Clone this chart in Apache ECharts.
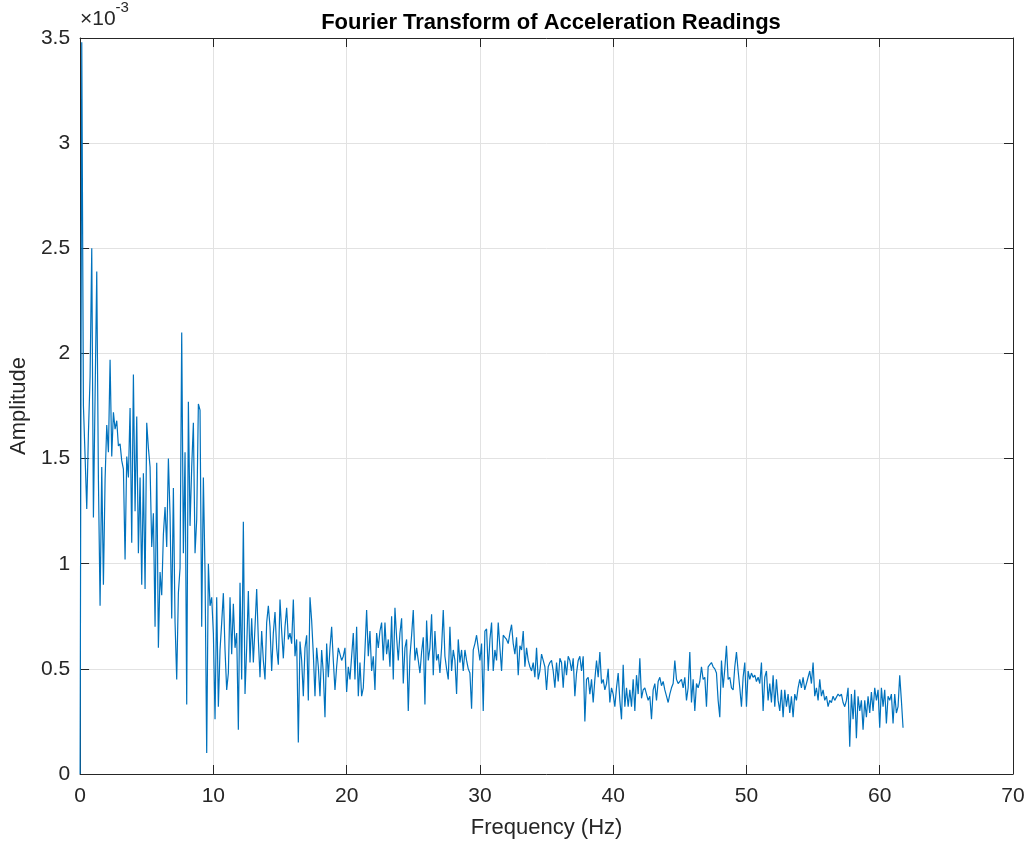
<!DOCTYPE html>
<html>
<head>
<meta charset="utf-8">
<title>Fourier Transform of Acceleration Readings</title>
<script src="https://cdn.jsdelivr.net/npm/echarts@6/dist/echarts.min.js"></script>
<style>
  html, body { margin: 0; padding: 0; background: #fff; }
  #chart { width: 1029px; height: 845px; }
</style>
</head>
<body>
<div id="chart"></div>
<script>
// frequency resolution of the spectrum (Hz per bin)
const df = 0.125;

// amplitude per bin, in units of 1e-3
const amp0to10 = [
  0, 3.48, 1.75, 1.51, 1.26, 1.62, 1.89, 2.50, 1.22, 1.80,
  2.39, 1.40, 0.80, 1.46, 0.90, 1.40, 1.66, 1.53, 1.97, 1.51,
  1.72, 1.64, 1.68, 1.56, 1.57, 1.49, 1.45, 1.02, 1.51, 1.41,
  1.74, 1.10, 1.90, 1.25, 1.70, 1.05, 1.41, 0.90, 1.43, 0.88,
  1.67, 1.55, 1.46, 1.08, 1.24, 0.70, 1.48, 0.60, 0.96, 0.85,
  1.14, 1.27, 1.08, 1.50, 1.23, 0.74, 1.36, 0.72, 0.45, 0.86,
  0.98, 2.10, 1.05, 1.53, 0.33, 1.77, 1.18, 1.46, 1.67, 1.05,
  1.21, 1.76, 1.73, 0.70, 1.41, 0.96, 0.10, 1.00, 0.80, 0.84
];
const amp10to20 = [
  0.67, 0.26, 0.84, 0.32, 0.59, 0.72, 0.86, 0.59, 0.40, 0.48,
  0.84, 0.57, 0.81, 0.60, 0.67, 0.21, 0.91, 0.45, 1.20, 0.38,
  0.60, 0.87, 0.53, 0.74, 0.53, 0.70, 0.88, 0.64, 0.46, 0.68,
  0.54, 0.45, 0.72, 0.80, 0.70, 0.49, 0.67, 0.77, 0.60, 0.52,
  0.83, 0.68, 0.55, 0.70, 0.79, 0.64, 0.67, 0.62, 0.83, 0.56,
  0.64, 0.15, 0.63, 0.54, 0.37, 0.60, 0.66, 0.35, 0.84, 0.73,
  0.57, 0.37, 0.60, 0.51, 0.37, 0.59, 0.48, 0.27, 0.62, 0.46,
  0.60, 0.70, 0.54, 0.40, 0.51, 0.60, 0.57, 0.54, 0.56, 0.60
];
const amp20to30 = [
  0.39, 0.51, 0.45, 0.56, 0.67, 0.45, 0.70, 0.37, 0.53, 0.37,
  0.41, 0.59, 0.78, 0.56, 0.68, 0.49, 0.56, 0.40, 0.67, 0.60,
  0.68, 0.72, 0.54, 0.72, 0.57, 0.64, 0.51, 0.75, 0.45, 0.79,
  0.65, 0.54, 0.67, 0.74, 0.43, 0.60, 0.64, 0.30, 0.56, 0.66,
  0.78, 0.54, 0.60, 0.54, 0.48, 0.58, 0.65, 0.33, 0.73, 0.54,
  0.60, 0.76, 0.47, 0.68, 0.54, 0.57, 0.48, 0.60, 0.78, 0.56,
  0.50, 0.45, 0.70, 0.49, 0.59, 0.54, 0.38, 0.64, 0.53, 0.59,
  0.49, 0.59, 0.54, 0.50, 0.48, 0.31, 0.59, 0.62, 0.66, 0.60
];
const amp30to40 = [
  0.54, 0.62, 0.30, 0.68, 0.69, 0.49, 0.64, 0.72, 0.49, 0.59,
  0.54, 0.72, 0.60, 0.49, 0.66, 0.65, 0.64, 0.62, 0.67, 0.71,
  0.62, 0.57, 0.65, 0.47, 0.61, 0.59, 0.68, 0.51, 0.60, 0.54,
  0.51, 0.49, 0.53, 0.46, 0.60, 0.45, 0.49, 0.57, 0.54, 0.51,
  0.40, 0.51, 0.53, 0.54, 0.49, 0.41, 0.53, 0.44, 0.55, 0.53,
  0.41, 0.54, 0.47, 0.56, 0.54, 0.49, 0.55, 0.37, 0.48, 0.54,
  0.56, 0.49, 0.56, 0.25, 0.45, 0.46, 0.38, 0.45, 0.34, 0.45,
  0.54, 0.46, 0.58, 0.43, 0.45, 0.40, 0.43, 0.50, 0.34, 0.41
];
const amp40to50 = [
  0.38, 0.32, 0.41, 0.48, 0.35, 0.26, 0.52, 0.32, 0.41, 0.32,
  0.40, 0.32, 0.45, 0.30, 0.47, 0.38, 0.55, 0.36, 0.40, 0.41,
  0.38, 0.35, 0.37, 0.26, 0.40, 0.43, 0.35, 0.44, 0.46, 0.42,
  0.44, 0.40, 0.37, 0.34, 0.38, 0.41, 0.43, 0.54, 0.45, 0.43,
  0.44, 0.45, 0.41, 0.46, 0.35, 0.41, 0.58, 0.34, 0.45, 0.30,
  0.43, 0.41, 0.44, 0.51, 0.45, 0.46, 0.32, 0.51, 0.52, 0.53,
  0.51, 0.50, 0.48, 0.35, 0.27, 0.54, 0.41, 0.50, 0.61, 0.45,
  0.46, 0.41, 0.40, 0.51, 0.58, 0.49, 0.41, 0.32, 0.46, 0.53
];
const amp50to60 = [
  0.32, 0.49, 0.45, 0.48, 0.46, 0.47, 0.44, 0.46, 0.43, 0.53,
  0.30, 0.46, 0.49, 0.35, 0.43, 0.34, 0.47, 0.32, 0.45, 0.35,
  0.30, 0.40, 0.27, 0.40, 0.32, 0.38, 0.29, 0.37, 0.27, 0.38,
  0.35, 0.41, 0.45, 0.41, 0.46, 0.40, 0.43, 0.46, 0.49, 0.43,
  0.53, 0.37, 0.41, 0.35, 0.45, 0.37, 0.40, 0.35, 0.37, 0.32,
  0.35, 0.34, 0.37, 0.35, 0.35, 0.38, 0.37, 0.38, 0.34, 0.32,
  0.35, 0.41, 0.13, 0.38, 0.26, 0.40, 0.17, 0.37, 0.30, 0.35,
  0.21, 0.35, 0.27, 0.37, 0.29, 0.39, 0.30, 0.41, 0.35, 0.40
];
const amp60to62 = [
  0.22, 0.41, 0.32, 0.40, 0.24, 0.37, 0.35, 0.38, 0.24, 0.38,
  0.29, 0.32, 0.47, 0.35, 0.22
];

const amplitude = [].concat(amp0to10, amp10to20, amp20to30, amp30to40,
                            amp40to50, amp50to60, amp60to62);
const freqTicks = [0, 10, 20, 30, 40, 50, 60, 70];
const ampTicks = [0, 0.5, 1, 1.5, 2, 2.5, 3, 3.5];

const spectrum = amplitude.map((a, i) => [i * df, a]);

const font = '"Liberation Sans", Arial, Helvetica, sans-serif';
const ink = '#262626';

let chart = echarts.init(document.getElementById('chart'), null, { renderer: 'canvas' });

const tickStyle = { show: true, inside: true, length: 9, lineStyle: { color: ink, width: 1 } };

chart.setOption({
  animation: false,
  backgroundColor: '#fff',
  title: {
    text: 'Fourier Transform of Acceleration Readings',
    left: 546, top: 7, textAlign: 'center',
    textStyle: { fontFamily: font, fontSize: 22, fontWeight: 'bold', color: '#000' }
  },
  grid: { left: 80, right: 16, top: 38, bottom: 71, containLabel: false },
  graphic: [{
    type: 'text', left: 80, top: 0,
    style: {
      text: '{a|×10}{b|-3}',
      rich: {
        a: { fontFamily: font, fontSize: 21, fill: ink, padding: [9, 0, 0, 0] },
        b: { fontFamily: font, fontSize: 15, fill: ink, verticalAlign: 'top' }
      }
    }
  }],
  xAxis: [{
    type: 'value', min: freqTicks[0], max: freqTicks[freqTicks.length - 1], interval: 10,
    name: 'Frequency (Hz)', nameLocation: 'middle', nameGap: 43,
    nameTextStyle: { fontFamily: font, fontSize: 22, color: ink },
    axisLine: { show: true, onZero: false, lineStyle: { color: ink, width: 1 } },
    axisTick: tickStyle,
    axisLabel: { fontFamily: font, fontSize: 21, color: ink, margin: 12 },
    splitLine: { show: true, lineStyle: { color: '#e2e2e2', width: 1 } }
  }, {
    type: 'value', position: 'top', min: 0, max: 70, interval: 10,
    axisLine: { show: true, onZero: false, lineStyle: { color: ink, width: 1 } },
    axisTick: tickStyle, axisLabel: { show: false }, splitLine: { show: false }
  }],
  yAxis: [{
    type: 'value', min: ampTicks[0], max: ampTicks[ampTicks.length - 1], interval: 0.5,
    name: 'Amplitude', nameLocation: 'middle', nameGap: 47,
    nameTextStyle: { fontFamily: font, fontSize: 22, color: ink },
    axisLine: { show: true, onZero: false, lineStyle: { color: ink, width: 1 } },
    axisTick: tickStyle,
    axisLabel: { fontFamily: font, fontSize: 21, color: ink, margin: 10 },
    splitLine: { show: true, lineStyle: { color: '#e2e2e2', width: 1 } }
  }, {
    type: 'value', position: 'right', min: 0, max: 3.5, interval: 0.5,
    axisLine: { show: true, onZero: false, lineStyle: { color: ink, width: 1 } },
    axisTick: tickStyle, axisLabel: { show: false }, splitLine: { show: false }
  }],
  series: [{
    name: 'Amplitude',
    type: 'line',
    data: spectrum,
    showSymbol: false,
    symbol: 'none',
    lineStyle: { color: '#0072BD', width: 1.2 },
    z: 3
  }]
});
</script>
</body>
</html>
